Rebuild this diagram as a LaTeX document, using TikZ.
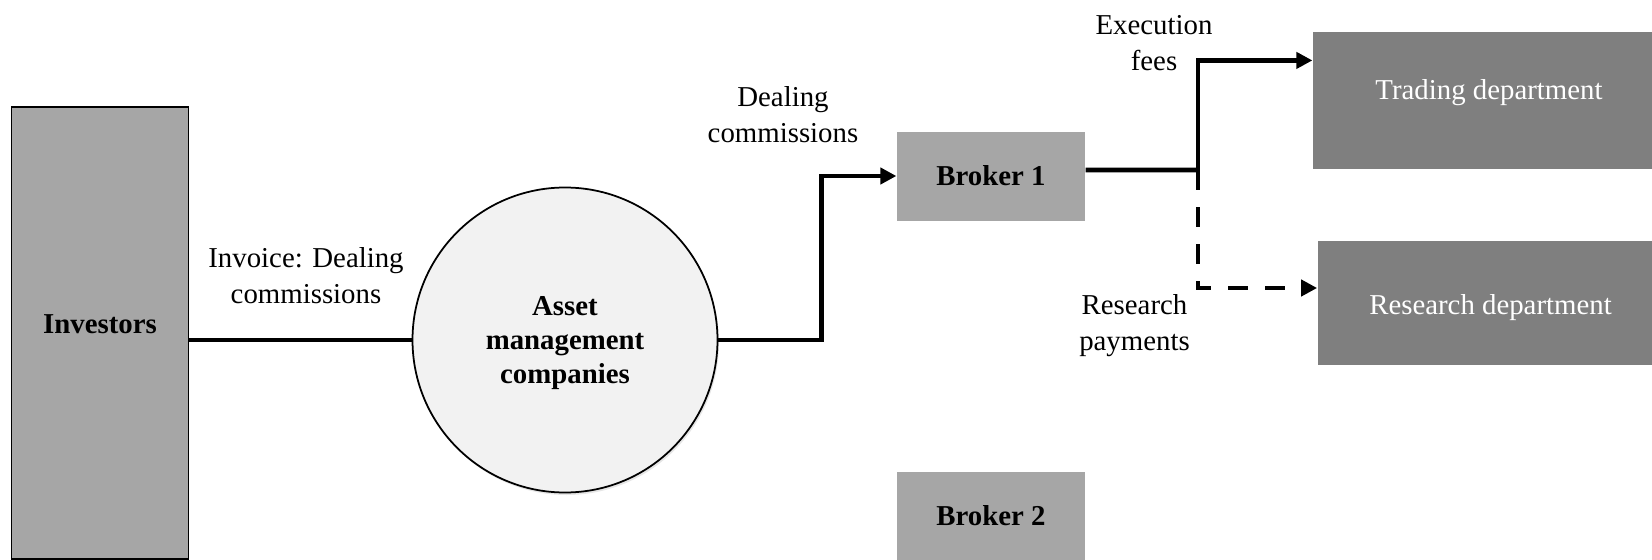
\documentclass[tikz,border=0pt]{standalone}
\usepackage{fontspec}
\setmainfont{Liberation Serif}
\usepackage{xcolor}
\usepackage{tikz}
\usetikzlibrary{calc,arrows.meta,shadows}
\definecolor{boxgray}{HTML}{A6A6A6}
\definecolor{deptgray}{HTML}{7F7F7F}
\definecolor{circfill}{HTML}{F2F2F2}
\definecolor{ink}{HTML}{000000}
\tikzset{
  every node/.style={font=\fontsize{16.4}{20.5}\selectfont},
  box/.style={rectangle, fill=boxgray, minimum width=3.77cm, minimum height=1.78cm, inner sep=0pt, font=\fontsize{16.4}{20.5}\selectfont\bfseries},
  dept/.style={rectangle, fill=deptgray, text=white, inner sep=0pt},
  circ/.style={circle, draw=ink, line width=1pt, fill=circfill, minimum size=6.1cm, inner sep=0pt, align=center,
    font=\fontsize{16.4}{19.5}\selectfont\bfseries, drop shadow={opacity=0.2, shadow xshift=0.03cm, shadow yshift=-0.05cm}},
  line/.style={draw=ink, line width=2.7pt, line join=miter},
  dline/.style={line, dash pattern=on 0.4cm off 0.34cm},
  tip/.style={-{Triangle[length=0.32cm, width=0.32cm]}},
  lab/.style={align=center, text=ink},
  blab/.style={text=ink, font=\fontsize{16.4}{20.5}\selectfont\bfseries},
}

\begin{document}
\begin{tikzpicture}
  \useasboundingbox (0,0) rectangle (33.04,-11.2);
  % boxes
  \node[box, draw=ink, line width=1pt, minimum width=3.54cm, minimum height=9.05cm] (inv) at (2.0,-6.66) {};
  \node[blab] (invtxt) at (2.0,-6.48) {Investors};
  \node[circ, text depth=-0.16cm] (amc) at (11.3,-6.8) {Asset\\management\\companies};
  \node[box] (b1) at (19.82,-3.52) {Broker 1};
  \node[box] (b2) at (19.82,-10.32) {Broker 2};
  \node[dept, minimum width=7.05cm, minimum height=2.75cm, text depth=0.42cm] (trade) at (29.78,-2.01) {Trading department};
  \node[dept, minimum width=6.92cm, minimum height=2.48cm, text height=0.59cm] (res) at (29.81,-6.06) {Research department};
  % flows
  \coordinate (split) at (23.96,-3.40);
  \draw[line] (inv.east |- amc.west) -- (amc.west);
  \draw[line, tip] (amc.east) -- ++(2.06,0) |- (b1.west);
  \draw[line] ($(b1.east)+(0,0.12)$) -- (split);
  \draw[line, tip] (split) |- ($(trade.north west)!0.21!(trade.south west)$);
  \draw[dline, tip] (split) |- ($(res.west)+(0,0.3)$);
  % labels
  \node[lab] (l1) at (6.12,-5.52) {Invoice: Dealing\\commissions};
  \node[lab] (l2) at (15.66,-2.3) {Dealing\\commissions};
  \node[lab] (l3) at (23.08,-0.86) {Execution\\fees};
  \node[lab] (l4) at (22.69,-6.52) {Research\\payments};
\end{tikzpicture}
\end{document}
